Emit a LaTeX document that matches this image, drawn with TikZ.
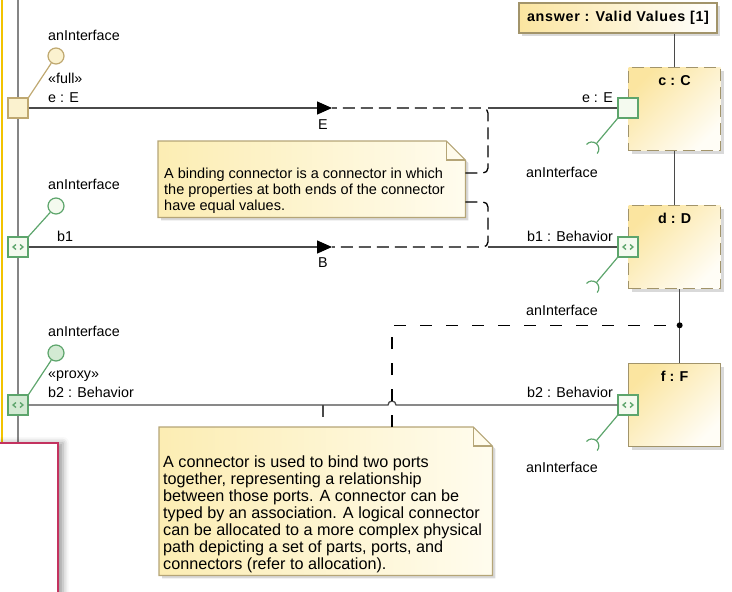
\documentclass[tikz,border=0pt]{standalone}
\usepackage{fontspec}
\setmainfont{Liberation Sans}
\definecolor{frameGold}{HTML}{F2C300}
\definecolor{frameGray}{HTML}{858585}
\definecolor{frameRed}{HTML}{C3325F}
\definecolor{lineGray}{HTML}{4A4A4A}
\definecolor{portTan}{HTML}{BFA870}
\definecolor{portCream}{HTML}{FBF2CF}
\definecolor{portGreen}{HTML}{5DA56C}
\definecolor{portMint}{HTML}{F4FAEF}
\definecolor{portSage}{HTML}{D3EAD3}
\definecolor{partBorder}{HTML}{A2946A}
\definecolor{partYellow}{HTML}{FBE5A0}
\definecolor{partLight}{HTML}{FFFDF6}
\definecolor{noteYellow}{HTML}{FCEDB3}
\definecolor{noteLight}{HTML}{FFFCEE}
\definecolor{noteBorder}{HTML}{B5A577}
\usepackage{tikz}
\usetikzlibrary{
	arrows.meta,
	calc,
	shadows,
	shadows.blur
}
\tikzset{
	portBase/.style={
		rectangle,
		minimum size=20pt,
		inner sep=0pt,
		line width=1.2pt
	},
	portFull/.style={portBase, draw=portTan, fill=portCream},
	portPlain/.style={portBase, draw=portGreen, fill=portMint},
	portFlow/.style={
		portBase,
		draw=portGreen,
		fill=portMint,
		path picture={
			\draw[portGreen, line width=1.3pt] (path picture bounding box.center) ++(-2,-2.5) -- ++(-3,2.5) -- ++(3,2.5);
			\draw[portGreen, line width=1.3pt] (path picture bounding box.center) ++(2,-2.5) -- ++(3,2.5) -- ++(-3,2.5);
		}
	},
	portProxy/.style={portFlow, fill=portSage},
	lolly/.style={
		circle,
		minimum size=16pt,
		inner sep=0pt,
		line width=1.2pt
	},
	socket/.style={draw=portGreen, line width=1.2pt},
	partBox/.style={
		rectangle,
		minimum width=92pt,
		minimum height=83pt,
		inner sep=0pt,
		anchor=north west,
		draw=partBorder,
		line width=1.3pt,
		top color=partYellow,
		bottom color=partLight,
		shading angle=45,
		drop shadow={shadow xshift=3pt, shadow yshift=-3pt, opacity=0.3}
	},
	partDashed/.style={partBox, dash pattern=on 12pt off 6pt},
	partTitle/.style={anchor=base, inner sep=0pt, font=\fontsize{14.3}{16}\selectfont\bfseries},
	answerBox/.style={
		draw=partBorder,
		line width=1.3pt,
		left color=partYellow,
		right color=white,
		minimum width=198pt,
		minimum height=30pt,
		inner sep=0pt,
		font=\fontsize{14.3}{16}\selectfont\bfseries\addfontfeature{LetterSpace=5},
		drop shadow={shadow xshift=3pt, shadow yshift=-3pt, opacity=0.3}
	},
	noteBody/.style={
		rectangle,
		anchor=north west,
		inner sep=0pt
	},
	noteFrame/.style={
		draw=noteBorder,
		line width=1.2pt,
		left color=noteYellow,
		right color=noteLight,
		drop shadow={shadow xshift=3pt, shadow yshift=-3pt, opacity=0.3}
	},
	noteText/.style={anchor=north west, inner sep=0pt, align=left},
	conn/.style={draw=lineGray, line width=1.3pt},
	flowTip/.style={-{Triangle[length=15pt, width=13pt, color=black]}},
	bindAnchor/.style={
		draw=black,
		line width=1.3pt,
		dash pattern=on 12pt off 6pt,
		rounded corners=5pt
	},
	allocAnchor/.style={
		draw=black,
		line width=1.3pt,
		dash pattern=on 12pt off 14pt
	},
	lbl/.style={anchor=base west, inner sep=0pt},
	lblR/.style={anchor=base east, inner sep=0pt}
}

\begin{document}
\begin{tikzpicture}[x=1pt, y=-1pt, font=\fontsize{14.3}{16}\selectfont]
	\useasboundingbox (0,0) rectangle (732,592);
	% frame edges
	\draw[frameGold, line width=2.5pt] (2,0) -- (2,443);
	\draw[frameGray, line width=2pt] (18,0) -- (18,443);
	\draw[frameRed, line width=1.5pt, fill=white, blur shadow={shadow xshift=5pt, shadow yshift=0pt, shadow blur radius=6pt}] (-5,443) rectangle (58,600);

	% parts
	\node[answerBox] (answer) at (618,18) {answer : Valid Values [1]};
	\node[partDashed] (boxC) at (628,67) {};
	\node[partDashed] (boxD) at (628,205) {};
	\node[partBox] (boxF) at (628,363) {};
	\node[partTitle] (titleC) at ($(boxC.north)+(0,18)$) {c : C};
	\node[partTitle] (titleD) at ($(boxD.north)+(0,18)$) {d : D};
	\node[partTitle] (titleF) at ($(boxF.north)+(0,18)$) {f : F};
	\draw[conn] (boxC.north) -- (boxC.north |- answer.south);
	\draw[conn] (boxC.south) -- (boxD.north);
	\coordinate (junctionDF) at ($(boxD.south)+(5,36)$);
	\draw[conn] ([xshift=5pt]boxD.south) -- ([xshift=5pt]boxF.north);

	% ports
	\node[portFull] (portEL) at (18,108) {};
	\node[portFlow] (portB1L) at (18,247) {};
	\node[portProxy] (portB2L) at (18,405) {};
	\node[portPlain] (portER) at (628,108) {};
	\node[portFlow] (portB1R) at (628,247) {};
	\node[portFlow] (portB2R) at (628,405) {};

	\node[lolly, draw=portTan, fill=portCream] (ifaceEL) at (56,56) {};
	\node[lolly, draw=portGreen, fill=portMint] (ifaceB1L) at (56,206) {};
	\node[lolly, draw=portGreen, fill=portSage] (ifaceB2L) at (56,353) {};
	\draw[portTan, line width=1.2pt] (portEL.north east) -- (ifaceEL);
	\draw[portGreen, line width=1.2pt] (portB1L.north east) -- (ifaceB1L);
	\draw[portGreen, line width=1.2pt] (portB2L.north east) -- (ifaceB2L);
	\foreach \p in {portER, portB1R, portB2R}{
		\draw[socket] (\p.south west) -- ++(-21,25) ++(-9.9,0.9) arc[start angle=-140, end angle=40, radius=7];
	}

	% connectors
	\coordinate (eFlow) at (332,108);
	\coordinate (eBend) at (488,108);
	\coordinate (b1Flow) at (332,247);
	\coordinate (b1Bend) at (488,247);
	\coordinate (hopB2) at (392,405);
	\draw[conn, flowTip] (portEL.east) -- (eFlow);
	\draw[conn] (eBend) -- (portER.west);
	\draw[conn, flowTip] (portB1L.east) -- (b1Flow);
	\draw[conn] (b1Bend) -- (portB1R.west);
	\draw[conn] (portB2L.east) -- ($(hopB2)+(-4,0)$) arc[start angle=180, end angle=360, radius=4] -- (portB2R.west);
	\draw[conn] (323,405) -- ++(0,12);
	\node[anchor=base, inner sep=0pt] (flowE) at (323,129) {E};
	\node[anchor=base, inner sep=0pt] (flowB) at (323,267) {B};

	% labels
	\node[lbl] (lblIfaceEL) at (48,40) {anInterface};
	\node[lbl] (lblFull) at (48,83) {«full»};
	\node[lbl] (lblEL) at (48,102) {e : E};
	\node[lbl] (lblIfaceB1L) at (48,189) {anInterface};
	\node[lbl] (lblB1L) at (57,241) {b1};
	\node[lbl] (lblIfaceB2L) at (48,336) {anInterface};
	\node[lbl] (lblProxy) at (48,378) {«proxy»};
	\node[lbl] (lblB2L) at (48,397) {b2 : Behavior};
	\node[lblR] (lblER) at (613,102) {e : E};
	\node[lbl] (lblIfaceER) at (526,177) {anInterface};
	\node[lblR] (lblB1R) at (613,241) {b1 : Behavior};
	\node[lbl] (lblIfaceB1R) at (526,315) {anInterface};
	\node[lblR] (lblB2R) at (613,397) {b2 : Behavior};
	\node[lbl] (lblIfaceB2R) at (526,472) {anInterface};

	% notes
	\node[noteBody, minimum width=307pt, minimum height=76pt] (noteBinding) at (158,141) {};
	\draw[noteFrame] (noteBinding.north west) -- ([xshift=-19pt]noteBinding.north east) -- ([yshift=-19pt]noteBinding.north east) -- (noteBinding.south east) -- (noteBinding.south west) -- cycle;
	\draw[noteBorder, line width=1.2pt] ([xshift=-19pt]noteBinding.north east) |- ([yshift=-19pt]noteBinding.north east);
	\node[noteText, font=\fontsize{14.5}{16}\selectfont] (noteBindingText) at (164,167.6) {A binding connector is a connector in which\\the properties at both ends of the connector\\have equal values.};

	\node[noteBody, minimum width=333pt, minimum height=148pt] (noteAlloc) at (159,427) {};
	\draw[noteFrame] (noteAlloc.north west) -- ([xshift=-19pt]noteAlloc.north east) -- ([yshift=-19pt]noteAlloc.north east) -- (noteAlloc.south east) -- (noteAlloc.south west) -- cycle;
	\draw[noteBorder, line width=1.2pt] ([xshift=-19pt]noteAlloc.north east) |- ([yshift=-19pt]noteAlloc.north east);
	\node[noteText, font=\fontsize{16.2}{17}\selectfont] (noteAllocText) at (163,455.4) {A connector is used to bind two ports\\together, representing a relationship\\between those ports. A connector can be\\typed by an association. A logical connector\\can be allocated to a more complex physical\\path depicting a set of parts, ports, and\\connectors (refer to allocation).};

	% note anchors
	\draw[bindAnchor] ([yshift=-32pt]noteBinding.north east) -| (eBend) -- (eFlow);
	\draw[bindAnchor] ([yshift=-61pt]noteBinding.north east) -| (b1Bend) -- (b1Flow);
	\draw[allocAnchor] ([xshift=233pt]noteAlloc.north west) |- (junctionDF);
	\fill (junctionDF) circle (3);
\end{tikzpicture}
\end{document}
